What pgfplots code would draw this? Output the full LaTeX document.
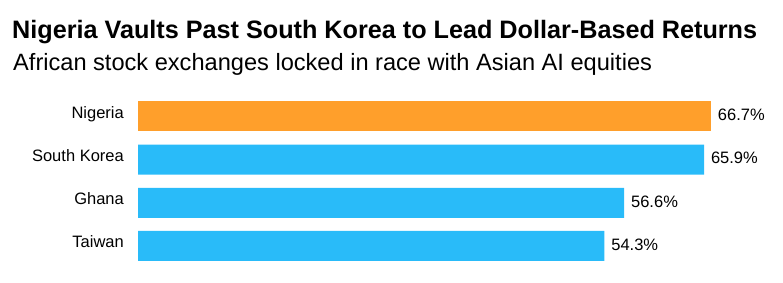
\documentclass[border=0pt]{standalone}
\usepackage{pgfplots}
\pgfplotsset{compat=1.18}
\usepackage{fontspec}
\setmainfont{Liberation Sans}
\definecolor{barorange}{HTML}{FF9F2B}
\definecolor{barblue}{HTML}{29BBF9}
\begin{document}
\begin{tikzpicture}
\useasboundingbox (0,0) rectangle (783pt,-283pt);
\node[anchor=base west, inner sep=0pt] at (12pt,-38.3pt) {\fontsize{25.2}{30}\selectfont\bfseries Nigeria Vaults Past South Korea to Lead Dollar-Based Returns};
\node[anchor=base west, inner sep=0pt] at (13pt,-71pt) {\fontsize{23.6}{28}\selectfont African stock exchanges locked in race with Asian AI equities};
\begin{axis}[
  at={(138pt,-267.6pt)}, anchor=south west,
  scale only axis, width=573pt, height=172.9pt,
  xmin=0, xmax=66.7, ymin=-0.5, ymax=3.5,
  y dir=reverse,
  xbar, bar width=30pt, bar shift=0pt,
  axis line style={draw=none},
  xtick=\empty,
  ytick={0,1,2,3},
  yticklabels={Nigeria,South Korea,Ghana,Taiwan},
  major tick length=0pt,
  yticklabel style={font=\fontsize{16.5}{20}\selectfont, anchor=base east, inner sep=0pt, xshift=-14pt, yshift=-2pt},
  clip=false,
  /pgf/number format/assume math mode=true,
  nodes near coords={\pgfmathprintnumber[fixed,precision=1,fixed zerofill]{\pgfplotspointmeta}\%},
  nodes near coords style={font=\fontsize{16.5}{20}\selectfont, anchor=base west, inner sep=0pt, xshift=6.7pt, yshift=-4.4pt, text=black},
]
\addplot[fill=barorange, draw=none] coordinates {(66.7,0)};
\addplot[fill=barblue, draw=none] coordinates {(65.9,1) (56.6,2) (54.3,3)};
\end{axis}
\end{tikzpicture}
\end{document}
